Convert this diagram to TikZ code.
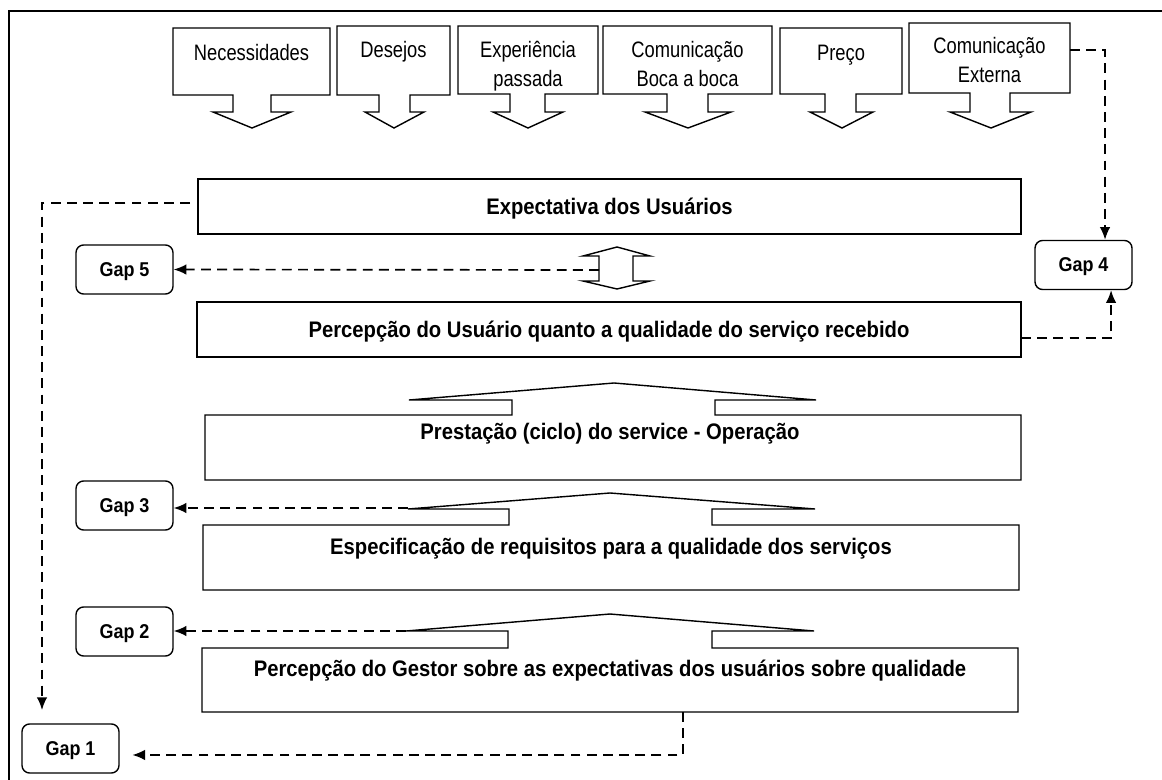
\documentclass[tikz,border=0pt]{standalone}
\usepackage{fontspec}
\setmainfont{Liberation Sans}
\newfontfamily\narrowfont{Liberation Sans}[FakeStretch=0.82]
\newfontfamily\heavyfont{Liberation Sans}[FakeStretch=0.9]
\usetikzlibrary{arrows.meta,positioning}
\tikzset{>={Latex[width=7.5pt,length=9pt]}}
\tikzset{blockshape/.style={draw=black, line width=1pt, fill=white, line join=miter}}
\tikzset{toptext/.style={font=\narrowfont\fontsize{15.9}{21.3}\selectfont, align=center, inner sep=0pt, anchor=base}}
\tikzset{boxtext/.style={font=\heavyfont\bfseries\fontsize{16}{19}\selectfont, inner sep=0pt, anchor=base}}
\tikzset{mainbox/.style={draw=black, line width=1pt, inner sep=0pt, text depth=0pt,
    font=\heavyfont\bfseries\fontsize{16}{19}\selectfont}}
\tikzset{gapbox/.style={draw=black, line width=1pt, rounded corners=5.5pt, fill=white,
    minimum width=69pt, minimum height=34.9pt, inner sep=0pt, text depth=0pt,
    font=\heavyfont\bfseries\fontsize{14.2}{17}\selectfont}}
\tikzset{gapline/.style={draw=black, line width=1.2pt, dash pattern=on 7pt off 4.5pt}}

\begin{document}
\begin{tikzpicture}[x=0.025cm, y=-0.025cm]
  \useasboundingbox (0,0) rectangle (1162,780);
  \clip (0,0) rectangle (1162,780);

    %%%% Frame
    \draw[line width=1.6pt] (9,11) rectangle (1180,800);

    %%%% Top callouts
    \path[blockshape] (173,28) -- (330,28) -- (330,95) -- (271,95) -- (271,112) -- (291,112) -- (252,128) -- (213,112) -- (233,112) -- (233,95) -- (173,95) -- cycle;
    \path[blockshape] (337,26) -- (450,26) -- (450,95) -- (410,95) -- (410,112) -- (424,112) -- (394,128) -- (365,112) -- (379,112) -- (379,95) -- (337,95) -- cycle;
    \path[blockshape] (458,26) -- (598,26) -- (598,94) -- (545,94) -- (545,112) -- (563,112) -- (528,128) -- (493,112) -- (510,112) -- (510,94) -- (458,94) -- cycle;
    \path[blockshape] (603,26) -- (772,26) -- (772,94) -- (708,94) -- (708,112) -- (731,112) -- (688,128) -- (645,112) -- (667,112) -- (667,94) -- (603,94) -- cycle;
    \path[blockshape] (780,28) -- (902,28) -- (902,94) -- (856,94) -- (856,112) -- (873,112) -- (842,128) -- (810,112) -- (825,112) -- (825,94) -- (780,94) -- cycle;
    \path[blockshape] (909,23) -- (1070,23) -- (1070,93) -- (1010,93) -- (1010,112) -- (1031,112) -- (991,128) -- (950,112) -- (970,112) -- (970,93) -- (909,93) -- cycle;

    \node[toptext] (nec)  at (251.5,61) {Necessidades};
    \node[toptext] (des)  at (393.5,58) {Desejos};
    \node[toptext] (exp)  at (528,87)   {Experiência\\passada};
    \node[toptext] (boca) at (687.5,87) {Comunicação\\Boca a boca};
    \node[toptext] (prc)  at (841,61)   {Preço};
    \node[toptext] (ext)  at (989.5,83) {Comunicação\\Externa};
    \coordinate (extR) at (1070,50);

    %%%% Expectativa / Percepcao
    \node[mainbox, minimum width=585.4pt, minimum height=39.1pt] (expect) at (609.5,206.5) {Expectativa dos Usuários};
    \node[mainbox, minimum width=586.1pt, minimum height=39.1pt] (percu) at (609,329.5) {Percepção do Usuário quanto a qualidade do serviço recebido};
    \coordinate (expL) at (190,203);
    \coordinate (percuR) at (1021,338);

    %%%% Double arrow
    \path[blockshape] (599,256) -- (583,256) -- (617,247) -- (650,256) -- (633,256) -- (633,281) -- (650,281) -- (617,289) -- (583,281) -- (599,281) -- cycle;
    \coordinate (dbl) at (599,270);

    %%%% Boxes with upward arrows
    \path[blockshape] (205,415) -- (512,415) -- (512,400) -- (409,400) -- (614,383) -- (816,400) -- (715,400) -- (715,415) -- (1021,415) -- (1021,480) -- (205,480) -- cycle;
    \path[blockshape] (203,525) -- (509,525) -- (509,509) -- (408,509) -- (610,493) -- (815,509) -- (712,509) -- (712,525) -- (1019,525) -- (1019,590) -- (203,590) -- cycle;
    \path[blockshape] (202,648) -- (508,648) -- (508,631) -- (406,631) -- (610,614) -- (814,631) -- (712,631) -- (712,648) -- (1018,648) -- (1018,712) -- (202,712) -- cycle;

    \node[boxtext] (prest) at (610,439) {Prestação (ciclo) do service - Operação};
    \node[boxtext] (espec) at (611,554) {Especificação de requisitos para a qualidade dos serviços};
    \node[boxtext] (gest)  at (610,676) {Percepção do Gestor sobre as expectativas dos usuários sobre qualidade};
    \coordinate (espL) at (408,508);
    \coordinate (gesL) at (406,631);
    \coordinate (gesB) at (683,712);
    \coordinate (g1top) at (42,710);

    %%%% Gaps
    \node[gapbox] (gap5) at (124.5,269.5) {Gap 5};
    \node[gapbox] (gap4) at (1083.5,265) {Gap 4};
    \node[gapbox] (gap3) at (124.5,505.5) {Gap 3};
    \node[gapbox] (gap2) at (124.5,631.5) {Gap 2};
    \node[gapbox] (gap1) at (70.5,748.5) {Gap 1};

    %%%% Dashed edges
    \draw[gapline, ->] (extR) -| ([xshift=15.3pt]gap4.north);
    \draw[gapline, ->] (percuR) -| ([xshift=19.6pt]gap4.south);
    \draw[gapline, ->] (dbl) -- (gap5.east);
    \draw[gapline, ->] (espL) -- (gap3.east |- espL);
    \draw[gapline, ->] (gesL) -- (gap2.east |- gesL);
    \draw[gapline, ->] (expL) -| (g1top);
    \draw[gapline, ->] (gesB) |- ([xshift=9pt, yshift=-4.6pt]gap1.east);

\end{tikzpicture}
\end{document}
